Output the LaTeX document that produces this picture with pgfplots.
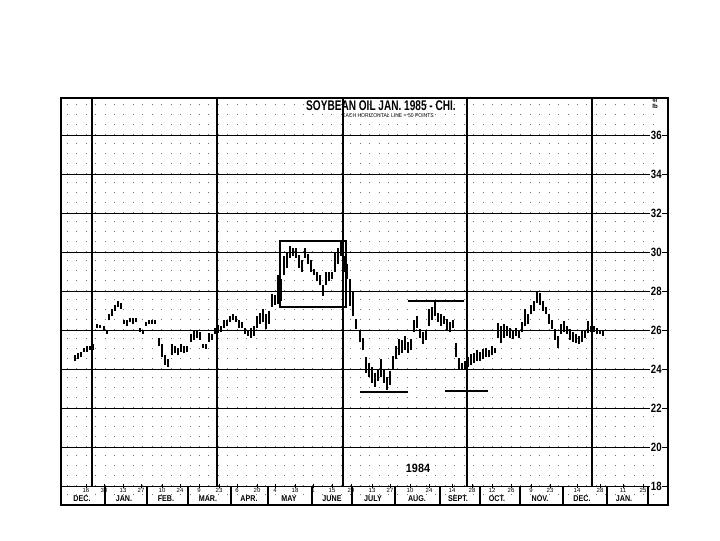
\documentclass[border=0pt]{standalone}
\usepackage{pgfplots}
\pgfplotsset{compat=1.18}
\usepackage{pgfplotstable}
\usepackage{fontspec}
\setmainfont{Liberation Sans}
\usepackage{graphicx}
\newcommand{\cb}[2]{\scalebox{#1}[1]{\bfseries #2}}

% x = position along the time axis (chart columns), lo/hi = daily low/high in cents per lb
\pgfplotstableread{
x lo hi
75 24.40 24.70
78 24.50 24.80
81 24.60 24.90
84 24.90 25.10
87 24.90 25.20
90 25.00 25.20
93 25.00 25.30
97 26.10 26.30
100 26.10 26.25
104 26.00 26.20
107 25.80 26.00
109 26.50 26.80
112 26.70 27.10
115 27.00 27.30
118 27.20 27.50
121 27.10 27.40
124 26.30 26.50
127 26.20 26.50
130 26.40 26.60
133 26.30 26.60
136 26.40 26.60
140 25.90 26.10
143 25.80 26.00
146 26.20 26.40
149 26.30 26.50
152 26.30 26.50
155 26.30 26.50
159 25.20 25.60
162 24.60 25.30
165 24.20 24.70
168 24.10 24.50
172 24.70 25.30
175 24.80 25.20
178 24.70 25.10
181 24.90 25.30
184 24.80 25.20
187 24.90 25.20
191 25.40 25.80
194 25.50 26.00
197 25.60 26.00
200 25.50 25.90
203 25.10 25.30
206 25.05 25.30
209 25.40 25.85
212 25.50 25.80
215 25.80 26.10
218 25.85 26.25
221 25.90 26.20
224 26.10 26.50
227 26.20 26.50
230 26.40 26.70
233 26.50 26.80
236 26.40 26.70
239 26.10 26.50
242 26.10 26.40
245 25.80 26.10
248 25.70 26.00
251 25.60 26.10
254 25.70 26.20
257 26.10 26.70
260 26.30 26.90
263 26.40 27.10
266 26.05 26.80
269 26.30 27.00
272 27.20 27.85
275 27.30 27.80
278 27.35 28.80
281 27.50 28.60
284 28.80 29.80
287 29.20 30.00
290 29.70 30.30
293 29.80 30.20
296 29.70 30.20
299 29.20 29.85
302 29.00 29.60
305 29.70 30.20
308 29.40 29.90
311 29.00 29.60
314 28.80 29.15
317 28.50 29.00
320 28.30 28.80
323 27.75 28.30
326 28.30 29.00
329 28.50 29.00
332 28.60 29.00
335 29.00 30.00
338 29.40 30.20
341 29.80 30.55
344 29.00 29.80
347 28.60 29.40
350 27.25 28.60
353 26.70 28.00
356 26.05 26.55
360 25.40 25.95
363 25.00 25.60
366 23.80 24.60
369 23.60 24.30
372 23.30 24.10
375 23.10 23.80
378 23.40 24.00
381 23.60 24.50
384 23.30 24.00
387 22.95 23.60
390 23.20 23.90
393 24.00 24.65
396 24.50 25.20
399 24.70 25.55
402 24.85 25.50
405 25.00 25.70
408 24.85 25.40
411 25.00 25.55
414 25.90 26.50
417 26.10 26.70
420 25.60 26.05
423 25.30 25.90
426 25.50 26.00
429 26.20 27.10
432 26.50 27.20
435 26.70 27.45
438 26.40 26.90
441 26.20 26.80
444 26.30 26.70
447 26.00 26.55
450 25.90 26.40
453 26.10 26.50
456 24.60 25.35
459 24.00 24.55
462 23.95 24.30
465 24.00 24.40
468 24.10 24.60
471 24.20 24.75
474 24.30 24.80
477 24.40 25.00
480 24.40 24.90
483 24.50 25.05
486 24.60 25.10
489 24.60 25.00
492 24.70 25.20
495 24.80 25.10
498 25.60 26.35
501 25.35 26.20
504 25.60 26.30
507 25.70 26.20
510 25.60 26.10
513 25.55 26.00
516 25.70 26.10
519 25.60 26.00
522 25.90 26.40
525 26.20 27.10
528 26.30 26.80
531 26.80 27.30
534 27.00 27.50
537 27.40 28.00
540 27.30 27.90
543 27.00 27.50
546 26.80 27.20
549 26.30 26.80
552 26.05 26.50
555 25.50 26.05
558 25.10 25.70
561 25.80 26.30
564 25.90 26.45
567 25.80 26.20
570 25.50 26.05
573 25.40 25.90
576 25.35 25.80
579 25.30 25.70
582 25.40 25.95
585 25.60 26.00
588 25.85 26.45
591 25.90 26.20
594 25.90 26.20
597 25.80 26.10
600 25.80 26.00
603 25.70 26.00
}\bars

\begin{document}
\begin{tikzpicture}
\path[use as bounding box] (0,0) rectangle (540pt,405pt);
\begin{axis}[
  at={(45.75pt,26.25pt)}, anchor=south west,
  scale only axis, width=455.25pt, height=305.25pt,
  xmin=61, xmax=668, ymin=17.03, ymax=37.9,
  axis line style={line width=1.5pt},
  clip=false,
  tick style={draw=none},
  ytick={18,20,22,24,26,28,30,32,34,36},
  yticklabels={\cb{0.8}{18},\cb{0.8}{20},\cb{0.8}{22},\cb{0.8}{24},\cb{0.8}{26},\cb{0.8}{28},\cb{0.8}{30},\cb{0.8}{32},\cb{0.8}{34},\cb{0.8}{36}},
  yticklabel pos=right,
  yticklabel style={anchor=east, xshift=-4pt, fill=white, inner sep=0.6pt, font=\fontsize{9}{9}\selectfont},
  ymajorgrids,
  major grid style={black, line width=0.8pt},
  xtick={86,104,123,141,162,180,199,219,237,257,275,295,313,332,351,372,390,410,429,452,472,492,511,531,550,577,600,623,643},
  xticklabels={16,30,13,27,10,24,9,23,6,20,4,18,1,15,29,13,27,10,24,14,28,12,26,9,23,14,28,11,25},
  xticklabel style={font=\fontsize{4.5}{5}\selectfont, inner sep=0.5pt, yshift=13pt},
  minor xtick={67.1,76.55,...,650},
  xminorgrids,
  minor grid style={black!55, line width=0.6pt, dash pattern=on 0.7pt off 6.61pt},
]
\addplot[black, only marks, mark=*, mark size=0pt, mark options={draw=none, fill=none},
  error bars/.cd, y dir=plus, y explicit, error mark=none,
  error bar style={draw=black, solid, line width=1.05pt}]
  table[x=x, y=lo, y error expr=\thisrow{hi}-\thisrow{lo}] {\bars};

% quarterly vertical rulings
\pgfplotsinvokeforeach{92,217,343,467,592}{
  \draw[black, line width=0.9pt] (axis cs:#1,18) -- (axis cs:#1,37.9);
}
% month dividers in the date band
\pgfplotsinvokeforeach{105,147,188,231,268,312,352,395,440,480,520,563,607,648}{
  \draw[black, line width=0.8pt] (axis cs:#1,17.03) -- (axis cs:#1,18);
}
% date ticks on the 18 line
\pgfplotsinvokeforeach{86,104,123,141,162,180,199,219,237,257,275,295,313,332,351,372,390,410,429,452,472,492,511,531,550,577,600,623,643}{
  \draw[black, line width=0.6pt] (axis cs:#1,18.12) -- (axis cs:#1,17.88);
}
% chart pattern annotations
\draw[black, line width=1.2pt] (axis cs:280,27.19) rectangle (axis cs:346,30.56);
\draw[black, line width=1.3pt] (axis cs:360,22.84) -- (axis cs:408,22.84);
\draw[black, line width=1.3pt] (axis cs:408,27.50) -- (axis cs:464,27.50);
\draw[black, line width=1.3pt] (axis cs:445,22.86) -- (axis cs:488,22.86);

% month names
\foreach \m/\p in {DEC./82, JAN./124, FEB./166, MAR./208, APR./249, MAY/289, JUNE/332, JULY/373, AUG./417, SEPT./458, OCT./497, NOV./540, DEC./582, JAN./624}{
  \edef\tmp{\noexpand\node[font=\noexpand\fontsize{6.3}{7}\noexpand\selectfont, inner sep=0pt] at (axis cs:\p,17.38) {\noexpand\cb{0.85}{\m}};}
  \tmp
}

\node[font=\fontsize{10.5}{10.5}\selectfont, inner sep=0pt] at (axis cs:381,37.53) {\cb{0.72}{SOYBEAN OIL JAN. 1985 - CHI.}};
\node[font=\fontsize{4.2}{5}\selectfont, inner sep=0pt] at (axis cs:388,36.98) {\scalebox{0.9}[1]{EACH HORIZONTAL LINE = 50 POINTS}};
\node[font=\fontsize{4.5}{4.5}\selectfont\bfseries, inner sep=0pt, align=center] at (axis cs:655,37.6) {¢/\\lb};
\node[font=\fontsize{9}{9}\selectfont, inner sep=0pt] at (axis cs:418,18.92) {\cb{0.9}{1984}};
\end{axis}
\end{tikzpicture}
\end{document}
